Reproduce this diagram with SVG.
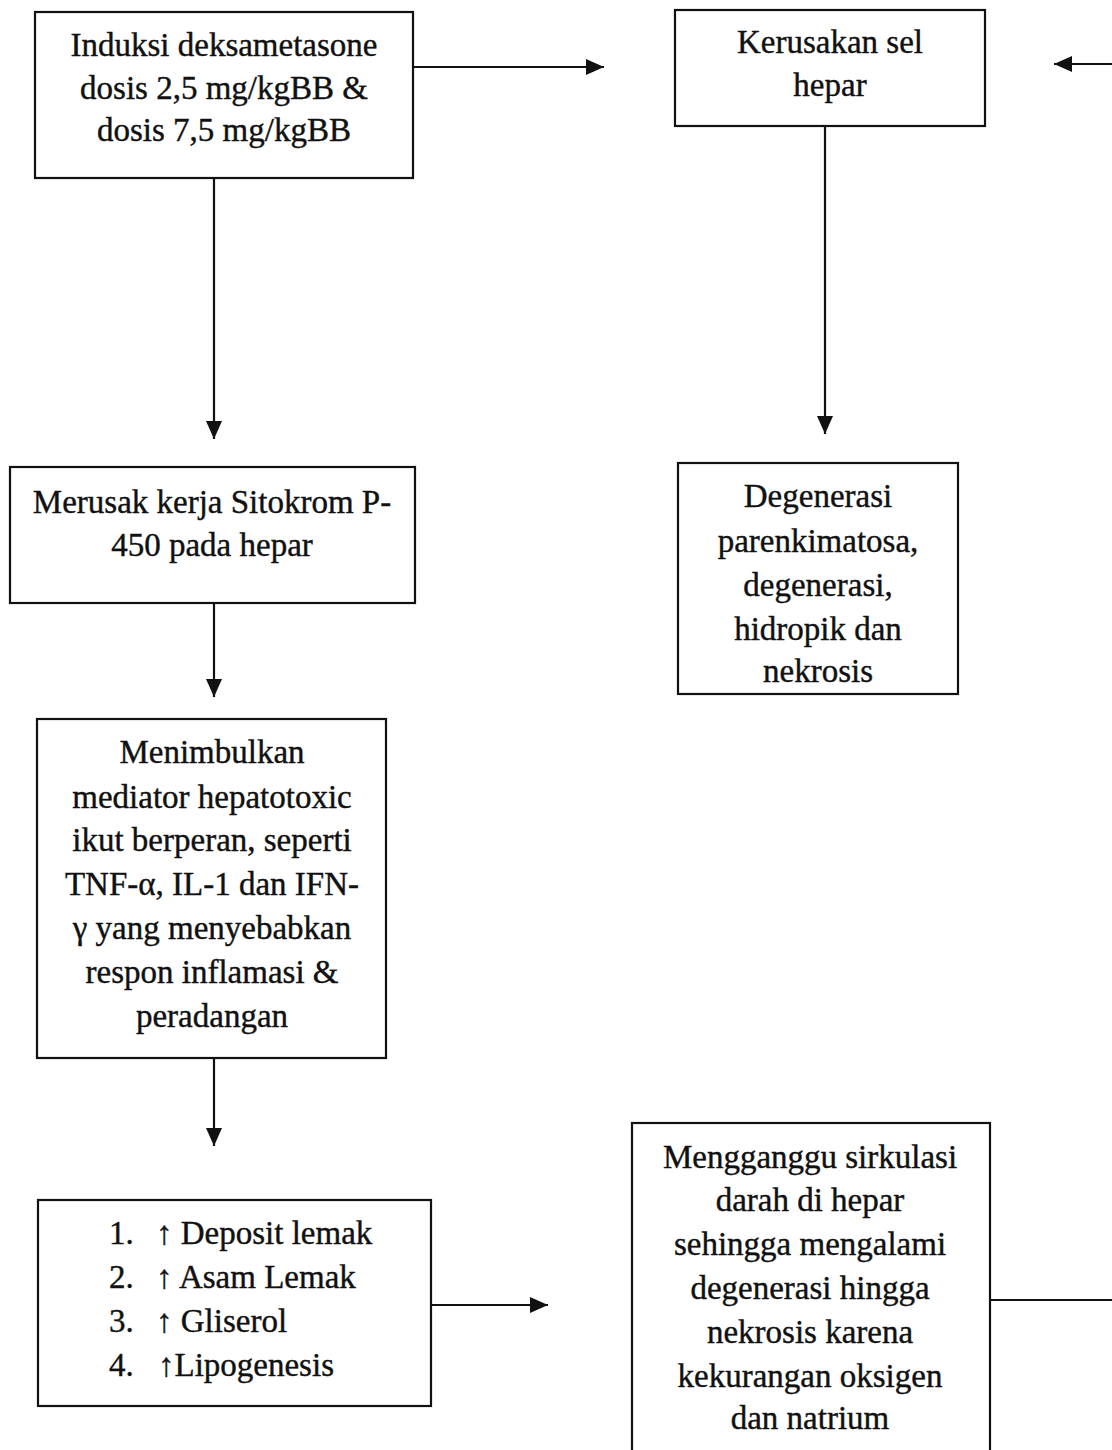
<svg xmlns="http://www.w3.org/2000/svg" width="1112" height="1450" viewBox="0 0 1112 1450">
<style>
.box{fill:#fff;stroke:#111;stroke-width:2.2}
.t{font-family:"Liberation Serif","Times New Roman",serif;font-size:33px;fill:#111;stroke:#111;stroke-width:0.4;text-anchor:middle}
.l{font-family:"Liberation Serif","Times New Roman",serif;font-size:33px;fill:#111;stroke:#111;stroke-width:0.4}
.c{stroke:#111;stroke-width:2.2;fill:none}
</style>
<defs>
<marker id="ah" viewBox="0 0 18 16" refX="18" refY="8" markerWidth="18" markerHeight="16" markerUnits="userSpaceOnUse" orient="auto">
<path d="M0,0 L18,8 L0,16 z" fill="#111"/>
</marker>
</defs>
<rect width="1112" height="1450" fill="#fff"/>
<g id="connectors">
<line class="c" x1="413" y1="67" x2="604" y2="67" marker-end="url(#ah)"/>
<line class="c" x1="1112" y1="64" x2="1054" y2="64" marker-end="url(#ah)"/>
<line class="c" x1="214" y1="178" x2="214" y2="439" marker-end="url(#ah)"/>
<line class="c" x1="825" y1="126" x2="825" y2="434" marker-end="url(#ah)"/>
<line class="c" x1="214" y1="603" x2="214" y2="697" marker-end="url(#ah)"/>
<line class="c" x1="214" y1="1058" x2="214" y2="1146" marker-end="url(#ah)"/>
<line class="c" x1="431" y1="1305" x2="548" y2="1305" marker-end="url(#ah)"/>
<line class="c" x1="990" y1="1300" x2="1112" y2="1300"/>
</g>
<g id="n1">
<rect class="box" x="35" y="12" width="378" height="166"/>
<text class="t" x="224" y="56">Induksi deksametasone</text>
<text class="t" x="224" y="99">dosis 2,5 mg/kgBB &amp;</text>
<text class="t" x="224" y="141">dosis 7,5 mg/kgBB</text>
</g>
<g id="n2">
<rect class="box" x="675" y="10" width="310" height="116"/>
<text class="t" x="830" y="53">Kerusakan sel</text>
<text class="t" x="830" y="96">hepar</text>
</g>
<g id="n3">
<rect class="box" x="10" y="467" width="405" height="136"/>
<text class="t" x="212" y="513">Merusak kerja Sitokrom P-</text>
<text class="t" x="212" y="556">450 pada hepar</text>
</g>
<g id="n4">
<rect class="box" x="678" y="463" width="280" height="231"/>
<text class="t" x="818" y="507">Degenerasi</text>
<text class="t" x="818" y="552">parenkimatosa,</text>
<text class="t" x="818" y="596">degenerasi,</text>
<text class="t" x="818" y="640">hidropik dan</text>
<text class="t" x="818" y="682">nekrosis</text>
</g>
<g id="n5">
<rect class="box" x="37" y="719" width="349" height="339"/>
<text class="t" x="212" y="763">Menimbulkan</text>
<text class="t" x="212" y="808">mediator hepatotoxic</text>
<text class="t" x="212" y="851">ikut berperan, seperti</text>
<text class="t" x="212" y="895">TNF-α, IL-1 dan IFN-</text>
<text class="t" x="212" y="939">γ yang menyebabkan</text>
<text class="t" x="212" y="983">respon inflamasi &amp;</text>
<text class="t" x="212" y="1027">peradangan</text>
</g>
<g id="n6">
<rect class="box" x="38" y="1200" width="393" height="206"/>
<text class="l" x="109" y="1244">1.</text>
<text class="l" x="156" y="1244">↑ Deposit lemak</text>
<text class="l" x="109" y="1288">2.</text>
<text class="l" x="156" y="1288">↑ Asam Lemak</text>
<text class="l" x="109" y="1332">3.</text>
<text class="l" x="156" y="1332">↑ Gliserol</text>
<text class="l" x="109" y="1376">4.</text>
<text class="l" x="158" y="1376">↑Lipogenesis</text>
</g>
<g id="n7">
<rect class="box" x="632" y="1123" width="358" height="340"/>
<text class="t" x="810" y="1168">Mengganggu sirkulasi</text>
<text class="t" x="810" y="1211">darah di hepar</text>
<text class="t" x="810" y="1255">sehingga mengalami</text>
<text class="t" x="810" y="1299">degenerasi hingga</text>
<text class="t" x="810" y="1343">nekrosis karena</text>
<text class="t" x="810" y="1387">kekurangan oksigen</text>
<text class="t" x="810" y="1429">dan natrium</text>
</g>
</svg>
